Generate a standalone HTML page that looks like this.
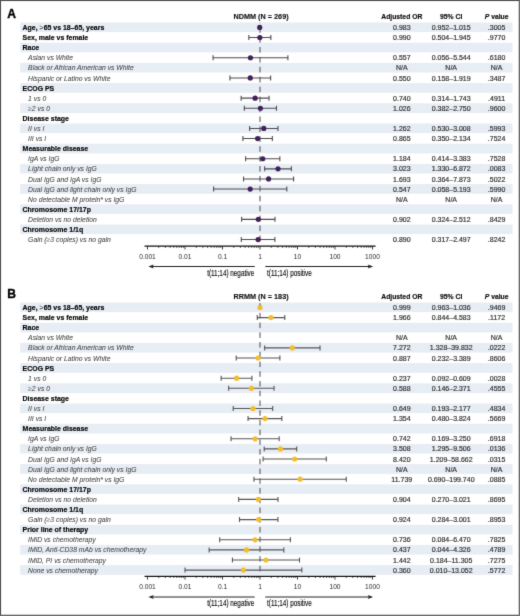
<!DOCTYPE html>
<html><head><meta charset="utf-8"><style>
html,body{margin:0;padding:0;background:#fff;}
svg{display:block;font-family:"Liberation Sans", sans-serif;}
.n{stroke:#333;stroke-width:0.2px;}
.b{stroke:#000;stroke-width:0.15px;}
</style></head><body>
<svg width="520" height="616" viewBox="0 0 520 616">
<defs><filter id="bl" x="0" y="0" width="520" height="616" filterUnits="userSpaceOnUse" color-interpolation-filters="sRGB"><feConvolveMatrix order="3" kernelMatrix="0.0183 0.1353 0.0183 0.1353 1 0.1353 0.0183 0.1353 0.0183" edgeMode="duplicate" preserveAlpha="true"/></filter></defs>
<g filter="url(#bl)">
<rect x="0" y="0" width="520" height="616" fill="#fff"/>
<rect x="20.2" y="22.5" width="492.3" height="9.65" fill="#e7edf4"/>
<rect x="20.2" y="42.7" width="492.3" height="9.65" fill="#e7edf4"/>
<rect x="20.2" y="62.9" width="492.3" height="9.65" fill="#e7edf4"/>
<rect x="20.2" y="83.1" width="492.3" height="9.65" fill="#e7edf4"/>
<rect x="20.2" y="103.3" width="492.3" height="9.65" fill="#e7edf4"/>
<rect x="20.2" y="123.5" width="492.3" height="9.65" fill="#e7edf4"/>
<rect x="20.2" y="143.7" width="492.3" height="9.65" fill="#e7edf4"/>
<rect x="20.2" y="163.9" width="492.3" height="9.65" fill="#e7edf4"/>
<rect x="20.2" y="184.1" width="492.3" height="9.65" fill="#e7edf4"/>
<rect x="20.2" y="204.3" width="492.3" height="9.65" fill="#e7edf4"/>
<rect x="20.2" y="224.5" width="492.3" height="9.65" fill="#e7edf4"/>
<text transform="translate(7.3 17.65) scale(1.0 1)" font-size="12.1" text-anchor="start" font-weight="bold" font-style="normal" fill="#000" stroke="#000" stroke-width="0.35">A</text>
<text transform="translate(261 18.65) scale(1.0 0.93)" font-size="7.3" text-anchor="middle" font-weight="bold" font-style="normal" fill="#111" stroke="#111" stroke-width="0.12">NDMM (N = 269)</text>
<text transform="translate(401.8 18.65) scale(1.0 0.93)" font-size="6.8" text-anchor="middle" font-weight="bold" font-style="normal" fill="#111" class="b">Adjusted OR</text>
<text transform="translate(451.2 18.65) scale(1.0 0.93)" font-size="6.8" text-anchor="middle" font-weight="bold" font-style="normal" fill="#111" class="b">95% CI</text>
<text transform="translate(496.6 18.65) scale(1.0 0.93)" font-size="6.8" text-anchor="middle" font-weight="bold" font-style="normal" fill="#111" class="b"><tspan font-style="italic">P</tspan> value</text>
<line x1="260.0" y1="22.45" x2="260.0" y2="244.65" stroke="#4a4a4a" stroke-width="1" stroke-dasharray="5.6 4.32" stroke-dashoffset="5.21"/>
<text transform="translate(22.6 30) scale(1.0 0.93)" font-size="6.95" text-anchor="start" font-weight="bold" font-style="normal" fill="#000" class="b">Age, <tspan font-weight="normal" fill="#8a8a8a">&gt;</tspan>65 vs 18–65, years</text>
<text transform="translate(401.8 30) scale(1.0 0.93)" font-size="7.0" text-anchor="middle" font-weight="normal" font-style="normal" fill="#333" class="n">0.983</text>
<text transform="translate(451.2 30) scale(1.0 0.93)" font-size="7.0" text-anchor="middle" font-weight="normal" font-style="normal" fill="#333" class="n">0.952–1.015</text>
<text transform="translate(496.6 30) scale(1.0 0.93)" font-size="7.0" text-anchor="middle" font-weight="normal" font-style="normal" fill="#333" class="n">.3005</text>
<path d="M259.2 27.45H260.24M259.2 24.95V29.95M260.24 24.95V29.95" stroke="#4f4b52" stroke-width="1.1" fill="none"/>
<circle cx="259.72" cy="27.45" r="2.6" fill="#42205a"/>
<text transform="translate(22.6 40.1) scale(1.0 0.93)" font-size="6.95" text-anchor="start" font-weight="bold" font-style="normal" fill="#000" class="b">Sex, male vs female</text>
<text transform="translate(401.8 40.1) scale(1.0 0.93)" font-size="7.0" text-anchor="middle" font-weight="normal" font-style="normal" fill="#333" class="n">0.990</text>
<text transform="translate(451.2 40.1) scale(1.0 0.93)" font-size="7.0" text-anchor="middle" font-weight="normal" font-style="normal" fill="#333" class="n">0.504–1.945</text>
<text transform="translate(496.6 40.1) scale(1.0 0.93)" font-size="7.0" text-anchor="middle" font-weight="normal" font-style="normal" fill="#333" class="n">.9770</text>
<path d="M248.84 37.55H270.83M248.84 35.05V40.05M270.83 35.05V40.05" stroke="#4f4b52" stroke-width="1.1" fill="none"/>
<circle cx="259.84" cy="37.55" r="2.6" fill="#42205a"/>
<text transform="translate(22.6 50.2) scale(1.0 0.93)" font-size="6.95" text-anchor="start" font-weight="bold" font-style="normal" fill="#000" class="b">Race</text>
<text transform="translate(28.1 60.3) scale(1.0 1.06)" font-size="6.8" text-anchor="start" font-weight="normal" font-style="italic" fill="#444" stroke="#444" stroke-width="0.05">Asian vs White</text>
<text transform="translate(401.8 60.3) scale(1.0 0.93)" font-size="7.0" text-anchor="middle" font-weight="normal" font-style="normal" fill="#333" class="n">0.557</text>
<text transform="translate(451.2 60.3) scale(1.0 0.93)" font-size="7.0" text-anchor="middle" font-weight="normal" font-style="normal" fill="#333" class="n">0.056–5.544</text>
<text transform="translate(496.6 60.3) scale(1.0 0.93)" font-size="7.0" text-anchor="middle" font-weight="normal" font-style="normal" fill="#333" class="n">.6180</text>
<path d="M213.06 57.75H287.89M213.06 55.25V60.25M287.89 55.25V60.25" stroke="#4f4b52" stroke-width="1.1" fill="none"/>
<circle cx="250.47" cy="57.75" r="2.6" fill="#42205a"/>
<text transform="translate(28.1 70.4) scale(1.0 1.06)" font-size="6.8" text-anchor="start" font-weight="normal" font-style="italic" fill="#444" stroke="#444" stroke-width="0.05">Black or African American vs White</text>
<text transform="translate(401.8 70.4) scale(1.0 0.93)" font-size="7.0" text-anchor="middle" font-weight="normal" font-style="normal" fill="#333" class="n">N/A</text>
<text transform="translate(451.2 70.4) scale(1.0 0.93)" font-size="7.0" text-anchor="middle" font-weight="normal" font-style="normal" fill="#333" class="n">N/A</text>
<text transform="translate(496.6 70.4) scale(1.0 0.93)" font-size="7.0" text-anchor="middle" font-weight="normal" font-style="normal" fill="#333" class="n">N/A</text>
<text transform="translate(28.1 80.5) scale(1.0 1.06)" font-size="6.8" text-anchor="start" font-weight="normal" font-style="italic" fill="#444" stroke="#444" stroke-width="0.05">Hispanic or Latino vs White</text>
<text transform="translate(401.8 80.5) scale(1.0 0.93)" font-size="7.0" text-anchor="middle" font-weight="normal" font-style="normal" fill="#333" class="n">0.550</text>
<text transform="translate(451.2 80.5) scale(1.0 0.93)" font-size="7.0" text-anchor="middle" font-weight="normal" font-style="normal" fill="#333" class="n">0.158–1.919</text>
<text transform="translate(496.6 80.5) scale(1.0 0.93)" font-size="7.0" text-anchor="middle" font-weight="normal" font-style="normal" fill="#333" class="n">.3487</text>
<path d="M229.95 77.95H270.62M229.95 75.45V80.45M270.62 75.45V80.45" stroke="#4f4b52" stroke-width="1.1" fill="none"/>
<circle cx="250.26" cy="77.95" r="2.6" fill="#42205a"/>
<text transform="translate(22.6 90.6) scale(1.0 0.93)" font-size="6.95" text-anchor="start" font-weight="bold" font-style="normal" fill="#000" class="b">ECOG PS</text>
<text transform="translate(28.1 100.7) scale(1.0 1.06)" font-size="6.8" text-anchor="start" font-weight="normal" font-style="italic" fill="#444" stroke="#444" stroke-width="0.05">1 vs 0</text>
<text transform="translate(401.8 100.7) scale(1.0 0.93)" font-size="7.0" text-anchor="middle" font-weight="normal" font-style="normal" fill="#333" class="n">0.740</text>
<text transform="translate(451.2 100.7) scale(1.0 0.93)" font-size="7.0" text-anchor="middle" font-weight="normal" font-style="normal" fill="#333" class="n">0.314–1.743</text>
<text transform="translate(496.6 100.7) scale(1.0 0.93)" font-size="7.0" text-anchor="middle" font-weight="normal" font-style="normal" fill="#333" class="n">.4911</text>
<path d="M241.13 98.15H269.05M241.13 95.65V100.65M269.05 95.65V100.65" stroke="#4f4b52" stroke-width="1.1" fill="none"/>
<circle cx="255.1" cy="98.15" r="2.6" fill="#42205a"/>
<text transform="translate(28.1 110.8) scale(1.0 1.06)" font-size="6.8" text-anchor="start" font-weight="normal" font-style="italic" fill="#444" stroke="#444" stroke-width="0.05"><tspan fill="#888">≥</tspan>2 vs 0</text>
<text transform="translate(401.8 110.8) scale(1.0 0.93)" font-size="7.0" text-anchor="middle" font-weight="normal" font-style="normal" fill="#333" class="n">1.026</text>
<text transform="translate(451.2 110.8) scale(1.0 0.93)" font-size="7.0" text-anchor="middle" font-weight="normal" font-style="normal" fill="#333" class="n">0.382–2.750</text>
<text transform="translate(496.6 110.8) scale(1.0 0.93)" font-size="7.0" text-anchor="middle" font-weight="normal" font-style="normal" fill="#333" class="n">.9600</text>
<path d="M244.33 108.25H276.47M244.33 105.75V110.75M276.47 105.75V110.75" stroke="#4f4b52" stroke-width="1.1" fill="none"/>
<circle cx="260.42" cy="108.25" r="2.6" fill="#42205a"/>
<text transform="translate(22.6 120.9) scale(1.0 0.93)" font-size="6.95" text-anchor="start" font-weight="bold" font-style="normal" fill="#000" class="b">Disease stage</text>
<text transform="translate(28.1 131) scale(1.0 1.06)" font-size="6.8" text-anchor="start" font-weight="normal" font-style="italic" fill="#444" stroke="#444" stroke-width="0.05">II vs I</text>
<text transform="translate(401.8 131) scale(1.0 0.93)" font-size="7.0" text-anchor="middle" font-weight="normal" font-style="normal" fill="#333" class="n">1.262</text>
<text transform="translate(451.2 131) scale(1.0 0.93)" font-size="7.0" text-anchor="middle" font-weight="normal" font-style="normal" fill="#333" class="n">0.530–3.008</text>
<text transform="translate(496.6 131) scale(1.0 0.93)" font-size="7.0" text-anchor="middle" font-weight="normal" font-style="normal" fill="#333" class="n">.5993</text>
<path d="M249.66 128.45H277.94M249.66 125.95V130.95M277.94 125.95V130.95" stroke="#4f4b52" stroke-width="1.1" fill="none"/>
<circle cx="263.79" cy="128.45" r="2.6" fill="#42205a"/>
<text transform="translate(28.1 141.1) scale(1.0 1.06)" font-size="6.8" text-anchor="start" font-weight="normal" font-style="italic" fill="#444" stroke="#444" stroke-width="0.05">III vs I</text>
<text transform="translate(401.8 141.1) scale(1.0 0.93)" font-size="7.0" text-anchor="middle" font-weight="normal" font-style="normal" fill="#333" class="n">0.865</text>
<text transform="translate(451.2 141.1) scale(1.0 0.93)" font-size="7.0" text-anchor="middle" font-weight="normal" font-style="normal" fill="#333" class="n">0.350–2.134</text>
<text transform="translate(496.6 141.1) scale(1.0 0.93)" font-size="7.0" text-anchor="middle" font-weight="normal" font-style="normal" fill="#333" class="n">.7524</text>
<path d="M242.9 138.55H272.34M242.9 136.05V141.05M272.34 136.05V141.05" stroke="#4f4b52" stroke-width="1.1" fill="none"/>
<circle cx="257.64" cy="138.55" r="2.6" fill="#42205a"/>
<text transform="translate(22.6 151.2) scale(1.0 0.93)" font-size="6.95" text-anchor="start" font-weight="bold" font-style="normal" fill="#000" class="b">Measurable disease</text>
<text transform="translate(28.1 161.3) scale(1.0 1.06)" font-size="6.8" text-anchor="start" font-weight="normal" font-style="italic" fill="#444" stroke="#444" stroke-width="0.05">IgA vs IgG</text>
<text transform="translate(401.8 161.3) scale(1.0 0.93)" font-size="7.0" text-anchor="middle" font-weight="normal" font-style="normal" fill="#333" class="n">1.184</text>
<text transform="translate(451.2 161.3) scale(1.0 0.93)" font-size="7.0" text-anchor="middle" font-weight="normal" font-style="normal" fill="#333" class="n">0.414–3.383</text>
<text transform="translate(496.6 161.3) scale(1.0 0.93)" font-size="7.0" text-anchor="middle" font-weight="normal" font-style="normal" fill="#333" class="n">.7528</text>
<path d="M245.64 158.75H279.85M245.64 156.25V161.25M279.85 156.25V161.25" stroke="#4f4b52" stroke-width="1.1" fill="none"/>
<circle cx="262.75" cy="158.75" r="2.6" fill="#42205a"/>
<text transform="translate(28.1 171.4) scale(1.0 1.06)" font-size="6.8" text-anchor="start" font-weight="normal" font-style="italic" fill="#444" stroke="#444" stroke-width="0.05">Light chain only vs IgG</text>
<text transform="translate(401.8 171.4) scale(1.0 0.93)" font-size="7.0" text-anchor="middle" font-weight="normal" font-style="normal" fill="#333" class="n">3.023</text>
<text transform="translate(451.2 171.4) scale(1.0 0.93)" font-size="7.0" text-anchor="middle" font-weight="normal" font-style="normal" fill="#333" class="n">1.330–6.872</text>
<text transform="translate(496.6 171.4) scale(1.0 0.93)" font-size="7.0" text-anchor="middle" font-weight="normal" font-style="normal" fill="#333" class="n">.0083</text>
<path d="M264.64 168.85H291.39M264.64 166.35V171.35M291.39 166.35V171.35" stroke="#4f4b52" stroke-width="1.1" fill="none"/>
<circle cx="278.02" cy="168.85" r="2.6" fill="#42205a"/>
<text transform="translate(28.1 181.5) scale(1.0 1.06)" font-size="6.8" text-anchor="start" font-weight="normal" font-style="italic" fill="#444" stroke="#444" stroke-width="0.05">Dual IgG and IgA vs IgG</text>
<text transform="translate(401.8 181.5) scale(1.0 0.93)" font-size="7.0" text-anchor="middle" font-weight="normal" font-style="normal" fill="#333" class="n">1.693</text>
<text transform="translate(451.2 181.5) scale(1.0 0.93)" font-size="7.0" text-anchor="middle" font-weight="normal" font-style="normal" fill="#333" class="n">0.364–7.873</text>
<text transform="translate(496.6 181.5) scale(1.0 0.93)" font-size="7.0" text-anchor="middle" font-weight="normal" font-style="normal" fill="#333" class="n">.5022</text>
<path d="M243.54 178.95H293.61M243.54 176.45V181.45M293.61 176.45V181.45" stroke="#4f4b52" stroke-width="1.1" fill="none"/>
<circle cx="268.57" cy="178.95" r="2.6" fill="#42205a"/>
<text transform="translate(28.1 191.6) scale(1.0 1.06)" font-size="6.8" text-anchor="start" font-weight="normal" font-style="italic" fill="#444" stroke="#444" stroke-width="0.05">Dual IgG and light chain only vs IgG</text>
<text transform="translate(401.8 191.6) scale(1.0 0.93)" font-size="7.0" text-anchor="middle" font-weight="normal" font-style="normal" fill="#333" class="n">0.547</text>
<text transform="translate(451.2 191.6) scale(1.0 0.93)" font-size="7.0" text-anchor="middle" font-weight="normal" font-style="normal" fill="#333" class="n">0.058–5.193</text>
<text transform="translate(496.6 191.6) scale(1.0 0.93)" font-size="7.0" text-anchor="middle" font-weight="normal" font-style="normal" fill="#333" class="n">.5990</text>
<path d="M213.63 189.05H286.83M213.63 186.55V191.55M286.83 186.55V191.55" stroke="#4f4b52" stroke-width="1.1" fill="none"/>
<circle cx="250.17" cy="189.05" r="2.6" fill="#42205a"/>
<text transform="translate(28.1 201.7) scale(1.0 1.06)" font-size="6.8" text-anchor="start" font-weight="normal" font-style="italic" fill="#444" stroke="#444" stroke-width="0.05">No detectable M protein* vs IgG</text>
<text transform="translate(401.8 201.7) scale(1.0 0.93)" font-size="7.0" text-anchor="middle" font-weight="normal" font-style="normal" fill="#333" class="n">N/A</text>
<text transform="translate(451.2 201.7) scale(1.0 0.93)" font-size="7.0" text-anchor="middle" font-weight="normal" font-style="normal" fill="#333" class="n">N/A</text>
<text transform="translate(496.6 201.7) scale(1.0 0.93)" font-size="7.0" text-anchor="middle" font-weight="normal" font-style="normal" fill="#333" class="n">N/A</text>
<text transform="translate(22.6 211.8) scale(1.0 0.93)" font-size="6.95" text-anchor="start" font-weight="bold" font-style="normal" fill="#000" class="b">Chromosome 17/17p</text>
<text transform="translate(28.1 221.9) scale(1.0 1.06)" font-size="6.8" text-anchor="start" font-weight="normal" font-style="italic" fill="#444" stroke="#444" stroke-width="0.05">Deletion vs no deletion</text>
<text transform="translate(401.8 221.9) scale(1.0 0.93)" font-size="7.0" text-anchor="middle" font-weight="normal" font-style="normal" fill="#333" class="n">0.902</text>
<text transform="translate(451.2 221.9) scale(1.0 0.93)" font-size="7.0" text-anchor="middle" font-weight="normal" font-style="normal" fill="#333" class="n">0.324–2.512</text>
<text transform="translate(496.6 221.9) scale(1.0 0.93)" font-size="7.0" text-anchor="middle" font-weight="normal" font-style="normal" fill="#333" class="n">.8429</text>
<path d="M241.65 219.35H275M241.65 216.85V221.85M275 216.85V221.85" stroke="#4f4b52" stroke-width="1.1" fill="none"/>
<circle cx="258.32" cy="219.35" r="2.6" fill="#42205a"/>
<text transform="translate(22.6 232) scale(1.0 0.93)" font-size="6.95" text-anchor="start" font-weight="bold" font-style="normal" fill="#000" class="b">Chromosome 1/1q</text>
<text transform="translate(28.1 242.1) scale(1.0 1.06)" font-size="6.8" text-anchor="start" font-weight="normal" font-style="italic" fill="#444" stroke="#444" stroke-width="0.05">Gain (<tspan fill="#888">≥</tspan>3 copies) vs no gain</text>
<text transform="translate(401.8 242.1) scale(1.0 0.93)" font-size="7.0" text-anchor="middle" font-weight="normal" font-style="normal" fill="#333" class="n">0.890</text>
<text transform="translate(451.2 242.1) scale(1.0 0.93)" font-size="7.0" text-anchor="middle" font-weight="normal" font-style="normal" fill="#333" class="n">0.317–2.497</text>
<text transform="translate(496.6 242.1) scale(1.0 0.93)" font-size="7.0" text-anchor="middle" font-weight="normal" font-style="normal" fill="#333" class="n">.8242</text>
<path d="M241.29 239.55H274.9M241.29 237.05V242.05M274.9 237.05V242.05" stroke="#4f4b52" stroke-width="1.1" fill="none"/>
<circle cx="258.1" cy="239.55" r="2.6" fill="#42205a"/>
<line x1="144.5" y1="246.2" x2="375.6" y2="246.2" stroke="#111" stroke-width="1.2"/>
<path d="M147.5 246.3v3.2M158.79 246.3v1.5M165.39 246.3v1.5M170.08 246.3v1.5M173.71 246.3v1.5M176.68 246.3v1.5M179.19 246.3v1.5M181.37 246.3v1.5M183.28 246.3v1.5M185 246.3v3.2M196.29 246.3v1.5M202.89 246.3v1.5M207.58 246.3v1.5M211.21 246.3v1.5M214.18 246.3v1.5M216.69 246.3v1.5M218.87 246.3v1.5M220.78 246.3v1.5M222.5 246.3v3.2M233.79 246.3v1.5M240.39 246.3v1.5M245.08 246.3v1.5M248.71 246.3v1.5M251.68 246.3v1.5M254.19 246.3v1.5M256.37 246.3v1.5M258.28 246.3v1.5M260 246.3v3.2M271.29 246.3v1.5M277.89 246.3v1.5M282.58 246.3v1.5M286.21 246.3v1.5M289.18 246.3v1.5M291.69 246.3v1.5M293.87 246.3v1.5M295.78 246.3v1.5M297.5 246.3v3.2M308.79 246.3v1.5M315.39 246.3v1.5M320.08 246.3v1.5M323.71 246.3v1.5M326.68 246.3v1.5M329.19 246.3v1.5M331.37 246.3v1.5M333.28 246.3v1.5M335 246.3v3.2M346.29 246.3v1.5M352.89 246.3v1.5M357.58 246.3v1.5M361.21 246.3v1.5M364.18 246.3v1.5M366.69 246.3v1.5M368.87 246.3v1.5M370.78 246.3v1.5M372.5 246.3v3.2" stroke="#111" stroke-width="0.8" fill="none"/>
<text transform="translate(147.5 258.6) scale(1.0 1.0)" font-size="6.65" text-anchor="middle" font-weight="normal" font-style="normal" fill="#2a2a2a">0.001</text>
<text transform="translate(185 258.6) scale(1.0 1.0)" font-size="6.65" text-anchor="middle" font-weight="normal" font-style="normal" fill="#2a2a2a">0.01</text>
<text transform="translate(222.5 258.6) scale(1.0 1.0)" font-size="6.65" text-anchor="middle" font-weight="normal" font-style="normal" fill="#2a2a2a">0.1</text>
<text transform="translate(260 258.6) scale(1.0 1.0)" font-size="6.65" text-anchor="middle" font-weight="normal" font-style="normal" fill="#2a2a2a">1</text>
<text transform="translate(297.5 258.6) scale(1.0 1.0)" font-size="6.65" text-anchor="middle" font-weight="normal" font-style="normal" fill="#2a2a2a">10</text>
<text transform="translate(335 258.6) scale(1.0 1.0)" font-size="6.65" text-anchor="middle" font-weight="normal" font-style="normal" fill="#2a2a2a">100</text>
<text transform="translate(372.5 258.6) scale(1.0 1.0)" font-size="6.65" text-anchor="middle" font-weight="normal" font-style="normal" fill="#2a2a2a">1000</text>
<line x1="152" y1="266.5" x2="254.7" y2="266.5" stroke="#222" stroke-width="1"/>
<path d="M148.3 266.5L153.8 264.4L152.6 266.5L153.8 268.6Z" fill="#222"/>
<line x1="265.3" y1="266.5" x2="369" y2="266.5" stroke="#222" stroke-width="1"/>
<path d="M373.2 266.5L367.7 264.4L368.9 266.5L367.7 268.6Z" fill="#222"/>
<text transform="translate(254.3 275.9) scale(0.74 1)" font-size="8.6" text-anchor="end" font-weight="normal" font-style="normal" fill="#111" stroke="#111" stroke-width="0.15">t(11;14) negative</text>
<text transform="translate(267 275.9) scale(0.74 1)" font-size="8.6" text-anchor="start" font-weight="normal" font-style="normal" fill="#111" stroke="#111" stroke-width="0.15">t(11;14) positive</text>
<rect x="20.2" y="302.55" width="492.3" height="9.65" fill="#e7edf4"/>
<rect x="20.2" y="322.75" width="492.3" height="9.65" fill="#e7edf4"/>
<rect x="20.2" y="342.95" width="492.3" height="9.65" fill="#e7edf4"/>
<rect x="20.2" y="363.15" width="492.3" height="9.65" fill="#e7edf4"/>
<rect x="20.2" y="383.35" width="492.3" height="9.65" fill="#e7edf4"/>
<rect x="20.2" y="403.55" width="492.3" height="9.65" fill="#e7edf4"/>
<rect x="20.2" y="423.75" width="492.3" height="9.65" fill="#e7edf4"/>
<rect x="20.2" y="443.95" width="492.3" height="9.65" fill="#e7edf4"/>
<rect x="20.2" y="464.15" width="492.3" height="9.65" fill="#e7edf4"/>
<rect x="20.2" y="484.35" width="492.3" height="9.65" fill="#e7edf4"/>
<rect x="20.2" y="504.55" width="492.3" height="9.65" fill="#e7edf4"/>
<rect x="20.2" y="524.75" width="492.3" height="9.65" fill="#e7edf4"/>
<rect x="20.2" y="544.95" width="492.3" height="9.65" fill="#e7edf4"/>
<rect x="20.2" y="565.15" width="492.3" height="9.65" fill="#e7edf4"/>
<text transform="translate(7.3 297.65) scale(1.0 1)" font-size="12.1" text-anchor="start" font-weight="bold" font-style="normal" fill="#000" stroke="#000" stroke-width="0.35">B</text>
<text transform="translate(261 298.7) scale(1.0 0.93)" font-size="7.3" text-anchor="middle" font-weight="bold" font-style="normal" fill="#111" stroke="#111" stroke-width="0.12">RRMM (N = 183)</text>
<text transform="translate(401.8 298.7) scale(1.0 0.93)" font-size="6.8" text-anchor="middle" font-weight="bold" font-style="normal" fill="#111" class="b">Adjusted OR</text>
<text transform="translate(451.2 298.7) scale(1.0 0.93)" font-size="6.8" text-anchor="middle" font-weight="bold" font-style="normal" fill="#111" class="b">95% CI</text>
<text transform="translate(496.6 298.7) scale(1.0 0.93)" font-size="6.8" text-anchor="middle" font-weight="bold" font-style="normal" fill="#111" class="b"><tspan font-style="italic">P</tspan> value</text>
<line x1="260.0" y1="302.5" x2="260.0" y2="575.2" stroke="#4a4a4a" stroke-width="1" stroke-dasharray="5.5 4.23" stroke-dashoffset="9.06"/>
<text transform="translate(22.6 310.05) scale(1.0 0.93)" font-size="6.95" text-anchor="start" font-weight="bold" font-style="normal" fill="#000" class="b">Age, <tspan font-weight="normal" fill="#8a8a8a">&gt;</tspan>65 vs 18–65, years</text>
<text transform="translate(401.8 310.05) scale(1.0 0.93)" font-size="7.0" text-anchor="middle" font-weight="normal" font-style="normal" fill="#333" class="n">0.999</text>
<text transform="translate(451.2 310.05) scale(1.0 0.93)" font-size="7.0" text-anchor="middle" font-weight="normal" font-style="normal" fill="#333" class="n">0.963–1.036</text>
<text transform="translate(496.6 310.05) scale(1.0 0.93)" font-size="7.0" text-anchor="middle" font-weight="normal" font-style="normal" fill="#333" class="n">.9469</text>
<path d="M259.39 307.5H260.58M259.39 305V310M260.58 305V310" stroke="#555555" stroke-width="1.1" fill="none"/>
<circle cx="259.98" cy="307.5" r="2.6" fill="#f3bd2c"/>
<text transform="translate(22.6 320.15) scale(1.0 0.93)" font-size="6.95" text-anchor="start" font-weight="bold" font-style="normal" fill="#000" class="b">Sex, male vs female</text>
<text transform="translate(401.8 320.15) scale(1.0 0.93)" font-size="7.0" text-anchor="middle" font-weight="normal" font-style="normal" fill="#333" class="n">1.966</text>
<text transform="translate(451.2 320.15) scale(1.0 0.93)" font-size="7.0" text-anchor="middle" font-weight="normal" font-style="normal" fill="#333" class="n">0.844–4.583</text>
<text transform="translate(496.6 320.15) scale(1.0 0.93)" font-size="7.0" text-anchor="middle" font-weight="normal" font-style="normal" fill="#333" class="n">.1172</text>
<path d="M257.24 317.6H284.79M257.24 315.1V320.1M284.79 315.1V320.1" stroke="#555555" stroke-width="1.1" fill="none"/>
<circle cx="271.01" cy="317.6" r="2.6" fill="#f3bd2c"/>
<text transform="translate(22.6 330.25) scale(1.0 0.93)" font-size="6.95" text-anchor="start" font-weight="bold" font-style="normal" fill="#000" class="b">Race</text>
<text transform="translate(28.1 340.35) scale(1.0 1.06)" font-size="6.8" text-anchor="start" font-weight="normal" font-style="italic" fill="#444" stroke="#444" stroke-width="0.05">Asian vs White</text>
<text transform="translate(401.8 340.35) scale(1.0 0.93)" font-size="7.0" text-anchor="middle" font-weight="normal" font-style="normal" fill="#333" class="n">N/A</text>
<text transform="translate(451.2 340.35) scale(1.0 0.93)" font-size="7.0" text-anchor="middle" font-weight="normal" font-style="normal" fill="#333" class="n">N/A</text>
<text transform="translate(496.6 340.35) scale(1.0 0.93)" font-size="7.0" text-anchor="middle" font-weight="normal" font-style="normal" fill="#333" class="n">N/A</text>
<text transform="translate(28.1 350.45) scale(1.0 1.06)" font-size="6.8" text-anchor="start" font-weight="normal" font-style="italic" fill="#444" stroke="#444" stroke-width="0.05">Black or African American vs White</text>
<text transform="translate(401.8 350.45) scale(1.0 0.93)" font-size="7.0" text-anchor="middle" font-weight="normal" font-style="normal" fill="#333" class="n">7.272</text>
<text transform="translate(451.2 350.45) scale(1.0 0.93)" font-size="7.0" text-anchor="middle" font-weight="normal" font-style="normal" fill="#333" class="n">1.328–39.832</text>
<text transform="translate(496.6 350.45) scale(1.0 0.93)" font-size="7.0" text-anchor="middle" font-weight="normal" font-style="normal" fill="#333" class="n">.0222</text>
<path d="M264.62 347.9H320.01M264.62 345.4V350.4M320.01 345.4V350.4" stroke="#555555" stroke-width="1.1" fill="none"/>
<circle cx="292.31" cy="347.9" r="2.6" fill="#f3bd2c"/>
<text transform="translate(28.1 360.55) scale(1.0 1.06)" font-size="6.8" text-anchor="start" font-weight="normal" font-style="italic" fill="#444" stroke="#444" stroke-width="0.05">Hispanic or Latino vs White</text>
<text transform="translate(401.8 360.55) scale(1.0 0.93)" font-size="7.0" text-anchor="middle" font-weight="normal" font-style="normal" fill="#333" class="n">0.887</text>
<text transform="translate(451.2 360.55) scale(1.0 0.93)" font-size="7.0" text-anchor="middle" font-weight="normal" font-style="normal" fill="#333" class="n">0.232–3.389</text>
<text transform="translate(496.6 360.55) scale(1.0 0.93)" font-size="7.0" text-anchor="middle" font-weight="normal" font-style="normal" fill="#333" class="n">.8606</text>
<path d="M236.21 358H279.88M236.21 355.5V360.5M279.88 355.5V360.5" stroke="#555555" stroke-width="1.1" fill="none"/>
<circle cx="258.05" cy="358" r="2.6" fill="#f3bd2c"/>
<text transform="translate(22.6 370.65) scale(1.0 0.93)" font-size="6.95" text-anchor="start" font-weight="bold" font-style="normal" fill="#000" class="b">ECOG PS</text>
<text transform="translate(28.1 380.75) scale(1.0 1.06)" font-size="6.8" text-anchor="start" font-weight="normal" font-style="italic" fill="#444" stroke="#444" stroke-width="0.05">1 vs 0</text>
<text transform="translate(401.8 380.75) scale(1.0 0.93)" font-size="7.0" text-anchor="middle" font-weight="normal" font-style="normal" fill="#333" class="n">0.237</text>
<text transform="translate(451.2 380.75) scale(1.0 0.93)" font-size="7.0" text-anchor="middle" font-weight="normal" font-style="normal" fill="#333" class="n">0.092–0.609</text>
<text transform="translate(496.6 380.75) scale(1.0 0.93)" font-size="7.0" text-anchor="middle" font-weight="normal" font-style="normal" fill="#333" class="n">.0028</text>
<path d="M221.14 378.2H251.92M221.14 375.7V380.7M251.92 375.7V380.7" stroke="#555555" stroke-width="1.1" fill="none"/>
<circle cx="236.55" cy="378.2" r="2.6" fill="#f3bd2c"/>
<text transform="translate(28.1 390.85) scale(1.0 1.06)" font-size="6.8" text-anchor="start" font-weight="normal" font-style="italic" fill="#444" stroke="#444" stroke-width="0.05"><tspan fill="#888">≥</tspan>2 vs 0</text>
<text transform="translate(401.8 390.85) scale(1.0 0.93)" font-size="7.0" text-anchor="middle" font-weight="normal" font-style="normal" fill="#333" class="n">0.588</text>
<text transform="translate(451.2 390.85) scale(1.0 0.93)" font-size="7.0" text-anchor="middle" font-weight="normal" font-style="normal" fill="#333" class="n">0.146–2.371</text>
<text transform="translate(496.6 390.85) scale(1.0 0.93)" font-size="7.0" text-anchor="middle" font-weight="normal" font-style="normal" fill="#333" class="n">.4555</text>
<path d="M228.66 388.3H274.06M228.66 385.8V390.8M274.06 385.8V390.8" stroke="#555555" stroke-width="1.1" fill="none"/>
<circle cx="251.35" cy="388.3" r="2.6" fill="#f3bd2c"/>
<text transform="translate(22.6 400.95) scale(1.0 0.93)" font-size="6.95" text-anchor="start" font-weight="bold" font-style="normal" fill="#000" class="b">Disease stage</text>
<text transform="translate(28.1 411.05) scale(1.0 1.06)" font-size="6.8" text-anchor="start" font-weight="normal" font-style="italic" fill="#444" stroke="#444" stroke-width="0.05">II vs I</text>
<text transform="translate(401.8 411.05) scale(1.0 0.93)" font-size="7.0" text-anchor="middle" font-weight="normal" font-style="normal" fill="#333" class="n">0.649</text>
<text transform="translate(451.2 411.05) scale(1.0 0.93)" font-size="7.0" text-anchor="middle" font-weight="normal" font-style="normal" fill="#333" class="n">0.193–2.177</text>
<text transform="translate(496.6 411.05) scale(1.0 0.93)" font-size="7.0" text-anchor="middle" font-weight="normal" font-style="normal" fill="#333" class="n">.4834</text>
<path d="M233.21 408.5H272.67M233.21 406V411M272.67 406V411" stroke="#555555" stroke-width="1.1" fill="none"/>
<circle cx="252.96" cy="408.5" r="2.6" fill="#f3bd2c"/>
<text transform="translate(28.1 421.15) scale(1.0 1.06)" font-size="6.8" text-anchor="start" font-weight="normal" font-style="italic" fill="#444" stroke="#444" stroke-width="0.05">III vs I</text>
<text transform="translate(401.8 421.15) scale(1.0 0.93)" font-size="7.0" text-anchor="middle" font-weight="normal" font-style="normal" fill="#333" class="n">1.354</text>
<text transform="translate(451.2 421.15) scale(1.0 0.93)" font-size="7.0" text-anchor="middle" font-weight="normal" font-style="normal" fill="#333" class="n">0.480–3.824</text>
<text transform="translate(496.6 421.15) scale(1.0 0.93)" font-size="7.0" text-anchor="middle" font-weight="normal" font-style="normal" fill="#333" class="n">.5669</text>
<path d="M248.05 418.6H281.84M248.05 416.1V421.1M281.84 416.1V421.1" stroke="#555555" stroke-width="1.1" fill="none"/>
<circle cx="264.94" cy="418.6" r="2.6" fill="#f3bd2c"/>
<text transform="translate(22.6 431.25) scale(1.0 0.93)" font-size="6.95" text-anchor="start" font-weight="bold" font-style="normal" fill="#000" class="b">Measurable disease</text>
<text transform="translate(28.1 441.35) scale(1.0 1.06)" font-size="6.8" text-anchor="start" font-weight="normal" font-style="italic" fill="#444" stroke="#444" stroke-width="0.05">IgA vs IgG</text>
<text transform="translate(401.8 441.35) scale(1.0 0.93)" font-size="7.0" text-anchor="middle" font-weight="normal" font-style="normal" fill="#333" class="n">0.742</text>
<text transform="translate(451.2 441.35) scale(1.0 0.93)" font-size="7.0" text-anchor="middle" font-weight="normal" font-style="normal" fill="#333" class="n">0.169–3.250</text>
<text transform="translate(496.6 441.35) scale(1.0 0.93)" font-size="7.0" text-anchor="middle" font-weight="normal" font-style="normal" fill="#333" class="n">.6918</text>
<path d="M231.05 438.8H279.2M231.05 436.3V441.3M279.2 436.3V441.3" stroke="#555555" stroke-width="1.1" fill="none"/>
<circle cx="255.14" cy="438.8" r="2.6" fill="#f3bd2c"/>
<text transform="translate(28.1 451.45) scale(1.0 1.06)" font-size="6.8" text-anchor="start" font-weight="normal" font-style="italic" fill="#444" stroke="#444" stroke-width="0.05">Light chain only vs IgG</text>
<text transform="translate(401.8 451.45) scale(1.0 0.93)" font-size="7.0" text-anchor="middle" font-weight="normal" font-style="normal" fill="#333" class="n">3.508</text>
<text transform="translate(451.2 451.45) scale(1.0 0.93)" font-size="7.0" text-anchor="middle" font-weight="normal" font-style="normal" fill="#333" class="n">1.295–9.506</text>
<text transform="translate(496.6 451.45) scale(1.0 0.93)" font-size="7.0" text-anchor="middle" font-weight="normal" font-style="normal" fill="#333" class="n">.0136</text>
<path d="M264.21 448.9H296.67M264.21 446.4V451.4M296.67 446.4V451.4" stroke="#555555" stroke-width="1.1" fill="none"/>
<circle cx="280.44" cy="448.9" r="2.6" fill="#f3bd2c"/>
<text transform="translate(28.1 461.55) scale(1.0 1.06)" font-size="6.8" text-anchor="start" font-weight="normal" font-style="italic" fill="#444" stroke="#444" stroke-width="0.05">Dual IgG and IgA vs IgG</text>
<text transform="translate(401.8 461.55) scale(1.0 0.93)" font-size="7.0" text-anchor="middle" font-weight="normal" font-style="normal" fill="#333" class="n">8.420</text>
<text transform="translate(451.2 461.55) scale(1.0 0.93)" font-size="7.0" text-anchor="middle" font-weight="normal" font-style="normal" fill="#333" class="n">1.209–58.662</text>
<text transform="translate(496.6 461.55) scale(1.0 0.93)" font-size="7.0" text-anchor="middle" font-weight="normal" font-style="normal" fill="#333" class="n">.0315</text>
<path d="M263.09 459H326.31M263.09 456.5V461.5M326.31 456.5V461.5" stroke="#555555" stroke-width="1.1" fill="none"/>
<circle cx="294.7" cy="459" r="2.6" fill="#f3bd2c"/>
<text transform="translate(28.1 471.65) scale(1.0 1.06)" font-size="6.8" text-anchor="start" font-weight="normal" font-style="italic" fill="#444" stroke="#444" stroke-width="0.05">Dual IgG and light chain only vs IgG</text>
<text transform="translate(401.8 471.65) scale(1.0 0.93)" font-size="7.0" text-anchor="middle" font-weight="normal" font-style="normal" fill="#333" class="n">N/A</text>
<text transform="translate(451.2 471.65) scale(1.0 0.93)" font-size="7.0" text-anchor="middle" font-weight="normal" font-style="normal" fill="#333" class="n">N/A</text>
<text transform="translate(496.6 471.65) scale(1.0 0.93)" font-size="7.0" text-anchor="middle" font-weight="normal" font-style="normal" fill="#333" class="n">N/A</text>
<text transform="translate(28.1 481.75) scale(1.0 1.06)" font-size="6.8" text-anchor="start" font-weight="normal" font-style="italic" fill="#444" stroke="#444" stroke-width="0.05">No detectable M protein* vs IgG</text>
<text transform="translate(401.8 481.75) scale(1.0 0.93)" font-size="7.0" text-anchor="middle" font-weight="normal" font-style="normal" fill="#333" class="n">11.739</text>
<text transform="translate(451.2 481.75) scale(1.0 0.93)" font-size="7.0" text-anchor="middle" font-weight="normal" font-style="normal" fill="#333" class="n">0.690–199.740</text>
<text transform="translate(496.6 481.75) scale(1.0 0.93)" font-size="7.0" text-anchor="middle" font-weight="normal" font-style="normal" fill="#333" class="n">.0885</text>
<path d="M253.96 479.2H346.27M253.96 476.7V481.7M346.27 476.7V481.7" stroke="#555555" stroke-width="1.1" fill="none"/>
<circle cx="300.11" cy="479.2" r="2.6" fill="#f3bd2c"/>
<text transform="translate(22.6 491.85) scale(1.0 0.93)" font-size="6.95" text-anchor="start" font-weight="bold" font-style="normal" fill="#000" class="b">Chromosome 17/17p</text>
<text transform="translate(28.1 501.95) scale(1.0 1.06)" font-size="6.8" text-anchor="start" font-weight="normal" font-style="italic" fill="#444" stroke="#444" stroke-width="0.05">Deletion vs no deletion</text>
<text transform="translate(401.8 501.95) scale(1.0 0.93)" font-size="7.0" text-anchor="middle" font-weight="normal" font-style="normal" fill="#333" class="n">0.904</text>
<text transform="translate(451.2 501.95) scale(1.0 0.93)" font-size="7.0" text-anchor="middle" font-weight="normal" font-style="normal" fill="#333" class="n">0.270–3.021</text>
<text transform="translate(496.6 501.95) scale(1.0 0.93)" font-size="7.0" text-anchor="middle" font-weight="normal" font-style="normal" fill="#333" class="n">.8695</text>
<path d="M238.68 499.4H278.01M238.68 496.9V501.9M278.01 496.9V501.9" stroke="#555555" stroke-width="1.1" fill="none"/>
<circle cx="258.36" cy="499.4" r="2.6" fill="#f3bd2c"/>
<text transform="translate(22.6 512.05) scale(1.0 0.93)" font-size="6.95" text-anchor="start" font-weight="bold" font-style="normal" fill="#000" class="b">Chromosome 1/1q</text>
<text transform="translate(28.1 522.15) scale(1.0 1.06)" font-size="6.8" text-anchor="start" font-weight="normal" font-style="italic" fill="#444" stroke="#444" stroke-width="0.05">Gain (<tspan fill="#888">≥</tspan>3 copies) vs no gain</text>
<text transform="translate(401.8 522.15) scale(1.0 0.93)" font-size="7.0" text-anchor="middle" font-weight="normal" font-style="normal" fill="#333" class="n">0.924</text>
<text transform="translate(451.2 522.15) scale(1.0 0.93)" font-size="7.0" text-anchor="middle" font-weight="normal" font-style="normal" fill="#333" class="n">0.284–3.001</text>
<text transform="translate(496.6 522.15) scale(1.0 0.93)" font-size="7.0" text-anchor="middle" font-weight="normal" font-style="normal" fill="#333" class="n">.8953</text>
<path d="M239.5 519.6H277.9M239.5 517.1V522.1M277.9 517.1V522.1" stroke="#555555" stroke-width="1.1" fill="none"/>
<circle cx="258.71" cy="519.6" r="2.6" fill="#f3bd2c"/>
<text transform="translate(22.6 532.25) scale(1.0 0.93)" font-size="6.95" text-anchor="start" font-weight="bold" font-style="normal" fill="#000" class="b">Prior line of therapy</text>
<text transform="translate(28.1 542.35) scale(1.0 1.06)" font-size="6.8" text-anchor="start" font-weight="normal" font-style="italic" fill="#444" stroke="#444" stroke-width="0.05">IMiD vs chemotherapy</text>
<text transform="translate(401.8 542.35) scale(1.0 0.93)" font-size="7.0" text-anchor="middle" font-weight="normal" font-style="normal" fill="#333" class="n">0.736</text>
<text transform="translate(451.2 542.35) scale(1.0 0.93)" font-size="7.0" text-anchor="middle" font-weight="normal" font-style="normal" fill="#333" class="n">0.084–6.470</text>
<text transform="translate(496.6 542.35) scale(1.0 0.93)" font-size="7.0" text-anchor="middle" font-weight="normal" font-style="normal" fill="#333" class="n">.7825</text>
<path d="M219.66 539.8H290.41M219.66 537.3V542.3M290.41 537.3V542.3" stroke="#555555" stroke-width="1.1" fill="none"/>
<circle cx="255.01" cy="539.8" r="2.6" fill="#f3bd2c"/>
<text transform="translate(28.1 552.45) scale(1.0 1.06)" font-size="6.8" text-anchor="start" font-weight="normal" font-style="italic" fill="#444" stroke="#444" stroke-width="0.05">IMiD, Anti-CD38 mAb vs chemotherapy</text>
<text transform="translate(401.8 552.45) scale(1.0 0.93)" font-size="7.0" text-anchor="middle" font-weight="normal" font-style="normal" fill="#333" class="n">0.437</text>
<text transform="translate(451.2 552.45) scale(1.0 0.93)" font-size="7.0" text-anchor="middle" font-weight="normal" font-style="normal" fill="#333" class="n">0.044–4.326</text>
<text transform="translate(496.6 552.45) scale(1.0 0.93)" font-size="7.0" text-anchor="middle" font-weight="normal" font-style="normal" fill="#333" class="n">.4789</text>
<path d="M209.13 549.9H283.85M209.13 547.4V552.4M283.85 547.4V552.4" stroke="#555555" stroke-width="1.1" fill="none"/>
<circle cx="246.52" cy="549.9" r="2.6" fill="#f3bd2c"/>
<text transform="translate(28.1 562.55) scale(1.0 1.06)" font-size="6.8" text-anchor="start" font-weight="normal" font-style="italic" fill="#444" stroke="#444" stroke-width="0.05">IMiD, PI vs chemotherapy</text>
<text transform="translate(401.8 562.55) scale(1.0 0.93)" font-size="7.0" text-anchor="middle" font-weight="normal" font-style="normal" fill="#333" class="n">1.442</text>
<text transform="translate(451.2 562.55) scale(1.0 0.93)" font-size="7.0" text-anchor="middle" font-weight="normal" font-style="normal" fill="#333" class="n">0.184–11.305</text>
<text transform="translate(496.6 562.55) scale(1.0 0.93)" font-size="7.0" text-anchor="middle" font-weight="normal" font-style="normal" fill="#333" class="n">.7275</text>
<path d="M232.43 560H299.5M232.43 557.5V562.5M299.5 557.5V562.5" stroke="#555555" stroke-width="1.1" fill="none"/>
<circle cx="265.96" cy="560" r="2.6" fill="#f3bd2c"/>
<text transform="translate(28.1 572.65) scale(1.0 1.06)" font-size="6.8" text-anchor="start" font-weight="normal" font-style="italic" fill="#444" stroke="#444" stroke-width="0.05">None vs chemotherapy</text>
<text transform="translate(401.8 572.65) scale(1.0 0.93)" font-size="7.0" text-anchor="middle" font-weight="normal" font-style="normal" fill="#333" class="n">0.360</text>
<text transform="translate(451.2 572.65) scale(1.0 0.93)" font-size="7.0" text-anchor="middle" font-weight="normal" font-style="normal" fill="#333" class="n">0.010–13.052</text>
<text transform="translate(496.6 572.65) scale(1.0 0.93)" font-size="7.0" text-anchor="middle" font-weight="normal" font-style="normal" fill="#333" class="n">.5772</text>
<path d="M185 570.1H301.84M185 567.6V572.6M301.84 567.6V572.6" stroke="#555555" stroke-width="1.1" fill="none"/>
<circle cx="243.36" cy="570.1" r="2.6" fill="#f3bd2c"/>
<line x1="144.5" y1="576.3" x2="375.6" y2="576.3" stroke="#111" stroke-width="1.2"/>
<path d="M147.5 576.4v3.2M158.79 576.4v1.5M165.39 576.4v1.5M170.08 576.4v1.5M173.71 576.4v1.5M176.68 576.4v1.5M179.19 576.4v1.5M181.37 576.4v1.5M183.28 576.4v1.5M185 576.4v3.2M196.29 576.4v1.5M202.89 576.4v1.5M207.58 576.4v1.5M211.21 576.4v1.5M214.18 576.4v1.5M216.69 576.4v1.5M218.87 576.4v1.5M220.78 576.4v1.5M222.5 576.4v3.2M233.79 576.4v1.5M240.39 576.4v1.5M245.08 576.4v1.5M248.71 576.4v1.5M251.68 576.4v1.5M254.19 576.4v1.5M256.37 576.4v1.5M258.28 576.4v1.5M260 576.4v3.2M271.29 576.4v1.5M277.89 576.4v1.5M282.58 576.4v1.5M286.21 576.4v1.5M289.18 576.4v1.5M291.69 576.4v1.5M293.87 576.4v1.5M295.78 576.4v1.5M297.5 576.4v3.2M308.79 576.4v1.5M315.39 576.4v1.5M320.08 576.4v1.5M323.71 576.4v1.5M326.68 576.4v1.5M329.19 576.4v1.5M331.37 576.4v1.5M333.28 576.4v1.5M335 576.4v3.2M346.29 576.4v1.5M352.89 576.4v1.5M357.58 576.4v1.5M361.21 576.4v1.5M364.18 576.4v1.5M366.69 576.4v1.5M368.87 576.4v1.5M370.78 576.4v1.5M372.5 576.4v3.2" stroke="#111" stroke-width="0.8" fill="none"/>
<text transform="translate(147.5 588.7) scale(1.0 1.0)" font-size="6.65" text-anchor="middle" font-weight="normal" font-style="normal" fill="#2a2a2a">0.001</text>
<text transform="translate(185 588.7) scale(1.0 1.0)" font-size="6.65" text-anchor="middle" font-weight="normal" font-style="normal" fill="#2a2a2a">0.01</text>
<text transform="translate(222.5 588.7) scale(1.0 1.0)" font-size="6.65" text-anchor="middle" font-weight="normal" font-style="normal" fill="#2a2a2a">0.1</text>
<text transform="translate(260 588.7) scale(1.0 1.0)" font-size="6.65" text-anchor="middle" font-weight="normal" font-style="normal" fill="#2a2a2a">1</text>
<text transform="translate(297.5 588.7) scale(1.0 1.0)" font-size="6.65" text-anchor="middle" font-weight="normal" font-style="normal" fill="#2a2a2a">10</text>
<text transform="translate(335 588.7) scale(1.0 1.0)" font-size="6.65" text-anchor="middle" font-weight="normal" font-style="normal" fill="#2a2a2a">100</text>
<text transform="translate(372.5 588.7) scale(1.0 1.0)" font-size="6.65" text-anchor="middle" font-weight="normal" font-style="normal" fill="#2a2a2a">1000</text>
<line x1="152" y1="597" x2="254.7" y2="597" stroke="#222" stroke-width="1"/>
<path d="M148.3 597L153.8 594.9L152.6 597L153.8 599.1Z" fill="#222"/>
<line x1="265.3" y1="597" x2="369" y2="597" stroke="#222" stroke-width="1"/>
<path d="M373.2 597L367.7 594.9L368.9 597L367.7 599.1Z" fill="#222"/>
<text transform="translate(254.3 606.4) scale(0.74 1)" font-size="8.6" text-anchor="end" font-weight="normal" font-style="normal" fill="#111" stroke="#111" stroke-width="0.15">t(11;14) negative</text>
<text transform="translate(267 606.4) scale(0.74 1)" font-size="8.6" text-anchor="start" font-weight="normal" font-style="normal" fill="#111" stroke="#111" stroke-width="0.15">t(11;14) positive</text>
<rect x="0.5" y="0.5" width="518.8" height="614.8" fill="none" stroke="#4d4d4d" stroke-width="1.1"/>
</g>
</svg>
</body></html>
